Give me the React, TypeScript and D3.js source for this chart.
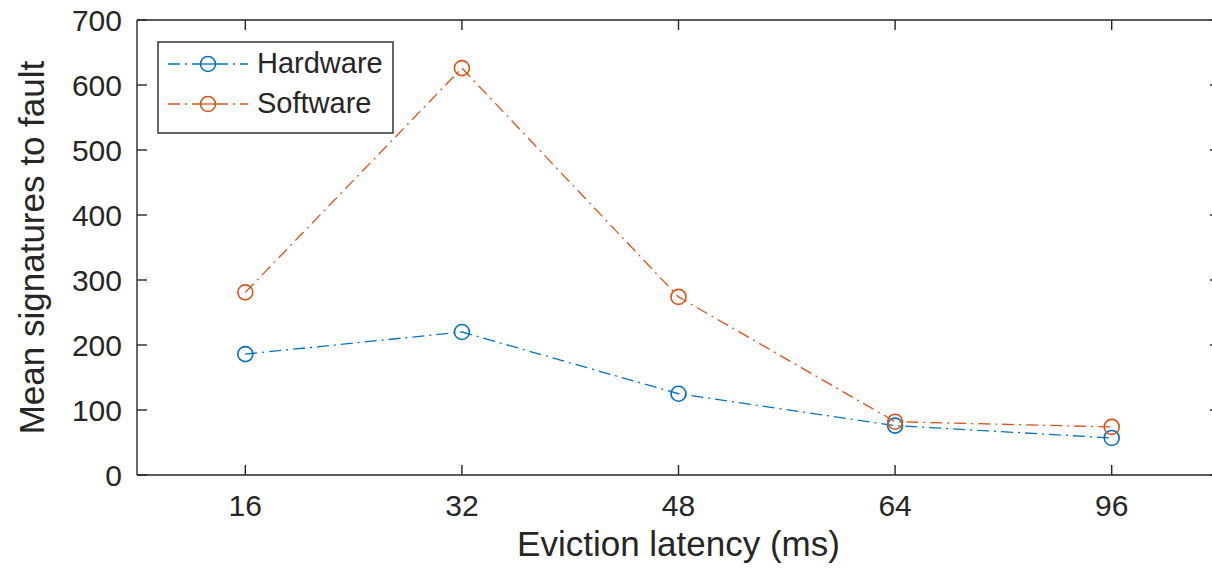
import * as d3 from 'd3'

const categories = ['16', '32', '48', '64', '96']
const hardware = [186, 220, 125, 76, 57]
const software = [281, 626, 274, 82, 74]
const yTicks = [0, 100, 200, 300, 400, 500, 600, 700]

const W = 1212
const H = 572
const box = { left: 137, right: 1220, top: 20, bottom: 475 }
const axisColor = '#262626'
const font = '"Liberation Sans", Arial, Helvetica, sans-serif'
const dashDot = '12,5,2,5'

const series = [
  { name: 'Hardware', values: hardware, color: '#0072BD' },
  { name: 'Software', values: software, color: '#D95319' },
]

export default function App() {
  const x = d3.scalePoint<string>().domain(categories).range([box.left, box.right]).padding(0.5)
  const y = d3.scaleLinear().domain([0, 700]).range([box.bottom, box.top])
  const tickLen = 10

  const line = d3.line<number>()
    .x((_, i) => x(categories[i]) ?? 0)
    .y(d => y(d))

  return (
    <svg
      width={W}
      height={H}
      style={{ position: 'absolute', left: 0, top: 0, background: '#fff' }}
      fontFamily={font}
    >
      {/* data lines */}
      {series.map(s => (
        <g key={s.name}>
          <path d={line(s.values) ?? ''} fill="none" stroke={s.color} strokeWidth={1.3} strokeDasharray={dashDot} />
          {s.values.map((v, i) => (
            <circle key={i} cx={x(categories[i])} cy={y(v)} r={7.5} fill="none" stroke={s.color} strokeWidth={1.6} />
          ))}
        </g>
      ))}

      {/* axes box */}
      <g stroke={axisColor} strokeWidth={1.4} fill="none">
        <line x1={box.left} x2={box.right} y1={box.bottom} y2={box.bottom} />
        <line x1={box.left} x2={box.right} y1={box.top} y2={box.top} />
        <line x1={box.left} x2={box.left} y1={box.top} y2={box.bottom} />
        <line x1={box.right} x2={box.right} y1={box.top} y2={box.bottom} />
        {categories.map(c => (
          <g key={c}>
            <line x1={x(c)} x2={x(c)} y1={box.bottom} y2={box.bottom - tickLen} />
            <line x1={x(c)} x2={x(c)} y1={box.top} y2={box.top + tickLen} />
          </g>
        ))}
        {yTicks.map(t => (
          <g key={t}>
            <line x1={box.left} x2={box.left + tickLen} y1={y(t)} y2={y(t)} />
            <line x1={box.right} x2={box.right - tickLen} y1={y(t)} y2={y(t)} />
          </g>
        ))}
      </g>

      {/* tick labels */}
      <g fill={axisColor} fontSize={30}>
        {categories.map(c => (
          <text key={c} x={x(c)} y={516} textAnchor="middle">{c}</text>
        ))}
        {yTicks.map(t => (
          <text key={t} x={box.left - 15} y={y(t)} dy="0.36em" textAnchor="end">{t}</text>
        ))}
      </g>

      {/* axis titles */}
      <text x={(box.left + 1220) / 2} y={556} textAnchor="middle" fontSize={35} fill={axisColor}>
        Eviction latency (ms)
      </text>
      <text
        transform={`translate(44, ${(box.top + box.bottom) / 2}) rotate(-90)`}
        textAnchor="middle"
        fontSize={35}
        fill={axisColor}
      >
        Mean signatures to fault
      </text>

      {/* legend */}
      <g>
        <rect x={158} y={42} width={235} height={91} fill="#fff" stroke={axisColor} strokeWidth={1.4} />
        {series.map((s, i) => {
          const ly = 64 + i * 40
          return (
            <g key={s.name}>
              <line x1={168} x2={248} y1={ly} y2={ly} stroke={s.color} strokeWidth={1.3} strokeDasharray={dashDot} />
              <circle cx={208} cy={ly} r={7.5} fill="#fff" stroke={s.color} strokeWidth={1.6} />
              <line x1={200.5} x2={215.5} y1={ly} y2={ly} stroke={s.color} strokeWidth={1.3} />
              <text x={257} y={ly + 9} fontSize={29} fill={axisColor}>{s.name}</text>
            </g>
          )
        })}
      </g>
    </svg>
  )
}
